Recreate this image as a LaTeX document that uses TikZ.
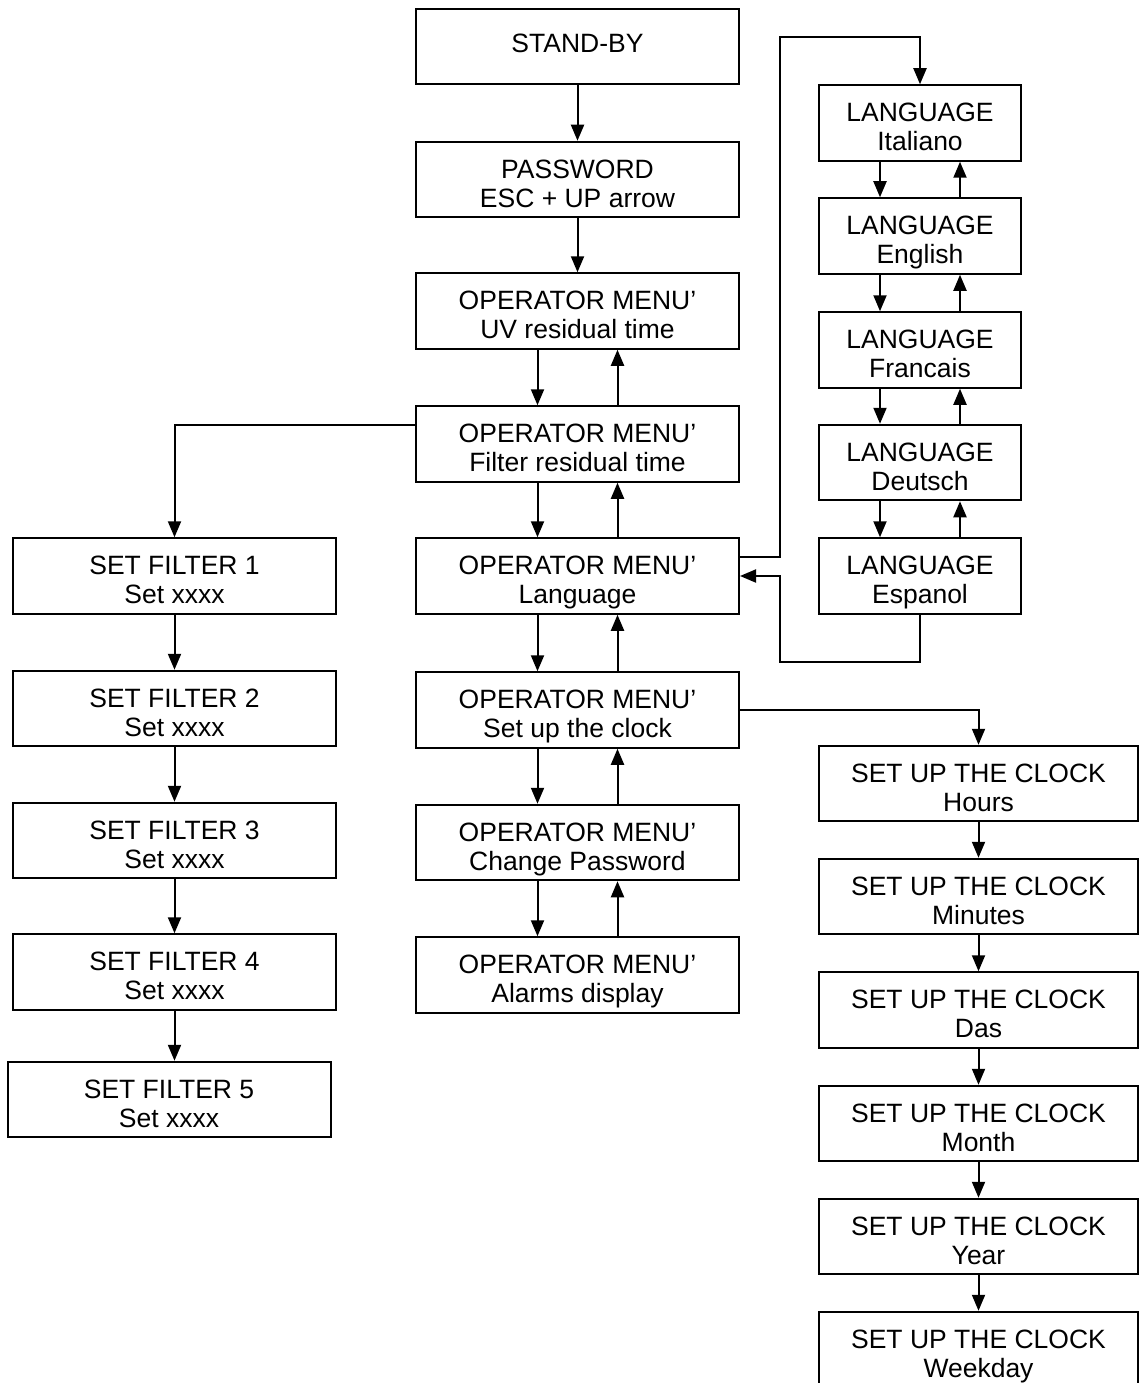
\documentclass[tikz,border=0pt]{standalone}
\usepackage{fontspec}
\setmainfont{Liberation Sans}
\usetikzlibrary{arrows.meta,calc}
\begin{document}
\begin{tikzpicture}[x=1pt,y=-1pt,
  box/.style={draw,line width=2pt,inner sep=0pt,minimum width=323pt,minimum height=75.5pt,align=center,font=\fontsize{26.5}{29}\selectfont,text height=55.4pt,text depth=0pt},
  single/.style={text height=12.5pt},
  langbox/.style={box,minimum width=202pt},
  clockbox/.style={box,minimum width=319pt},
  link/.style={line width=2pt},
  arr/.style={link,-{Triangle[length=16pt,width=13pt]}}]
\useasboundingbox (0,0) rectangle (1139,1383);
% main column
\node[box,single] (sb) at (577.5,46.5) {STAND-BY};
\node[box] (pw) at (577.5,179.5) {PASSWORD\\ESC + UP arrow};
\node[box] (uv) at (577.5,311) {OPERATOR MENU’\\UV residual time};
\node[box] (fr) at (577.5,444) {OPERATOR MENU’\\Filter residual time};
\node[box] (lg) at (577.5,576) {OPERATOR MENU’\\Language};
\node[box] (ck) at (577.5,710) {OPERATOR MENU’\\Set up the clock};
\node[box] (cp) at (577.5,842.5) {OPERATOR MENU’\\Change Password};
\node[box] (al) at (577.5,975) {OPERATOR MENU’\\Alarms display};
% filter column
\node[box] (f1) at (174.5,576) {SET FILTER 1\\Set xxxx};
\node[box] (f2) at (174.5,708.5) {SET FILTER 2\\Set xxxx};
\node[box] (f3) at (174.5,840.5) {SET FILTER 3\\Set xxxx};
\node[box] (f4) at (174.5,972) {SET FILTER 4\\Set xxxx};
\node[box] (f5) at (169,1099.5) {SET FILTER 5\\Set xxxx};
% language column
\node[langbox] (it) at (920,123) {LANGUAGE\\Italiano};
\node[langbox] (en) at (920,236) {LANGUAGE\\English};
\node[langbox] (fra) at (920,350) {LANGUAGE\\Francais};
\node[langbox] (de) at (920,462.5) {LANGUAGE\\Deutsch};
\node[langbox] (es) at (920,576) {LANGUAGE\\Espanol};
% clock column
\node[clockbox] (ho) at (978.5,783.5) {SET UP THE CLOCK\\Hours};
\node[clockbox] (mi) at (978.5,896.5) {SET UP THE CLOCK\\Minutes};
\node[clockbox] (da) at (978.5,1010) {SET UP THE CLOCK\\Das};
\node[clockbox] (mo) at (978.5,1123.5) {SET UP THE CLOCK\\Month};
\node[clockbox] (ye) at (978.5,1236.5) {SET UP THE CLOCK\\Year};
\node[clockbox] (wd) at (978.5,1349.5) {SET UP THE CLOCK\\Weekday};
% main column connectors
\draw[arr] (sb.south) -- (pw.north);
\draw[arr] (pw.south) -- (uv.north);
\foreach \a/\b in {uv/fr,fr/lg,lg/ck,ck/cp,cp/al}{
  \draw[arr] ($(\a.south)+(-40,0)$) -- ($(\b.north)+(-40,0)$);
  \draw[arr] ($(\b.north)+(40,0)$) -- ($(\a.south)+(40,0)$);
}
% language connectors
\foreach \a/\b in {it/en,en/fra,fra/de,de/es}{
  \draw[arr] ($(\a.south)+(-40,0)$) -- ($(\b.north)+(-40,0)$);
  \draw[arr] ($(\b.north)+(40,0)$) -- ($(\a.south)+(40,0)$);
}
\coordinate (lgx) at ($(lg.east)+(40,-19)$);
\draw[arr] ($(lg.east)+(0,-19)$) -- (lgx) -- (lgx |- 0,37) -- (it.north |- 0,37) -- (it.north);
\coordinate (esb) at ($(es.south)+(0,47)$);
\draw[arr] (es.south) -- (esb) -- (lgx |- esb) -- (lgx |- lg.east) -- (lg.east);
% filter connectors
\draw[arr] ($(fr.west)+(0,-19.5)$) -- (f1.north |- 0,424.5) -- (f1.north);
\draw[arr] (f1.south) -- (f2.north);
\draw[arr] (f2.south) -- (f3.north);
\draw[arr] (f3.south) -- (f4.north);
\draw[arr] (f4.south) -- (f4.south |- f5.north);
% clock connectors
\draw[arr] (ck.east) -- (ho.north |- ck.east) -- (ho.north);
\draw[arr] (ho.south) -- (mi.north);
\draw[arr] (mi.south) -- (da.north);
\draw[arr] (da.south) -- (mo.north);
\draw[arr] (mo.south) -- (ye.north);
\draw[arr] (ye.south) -- (wd.north);
\end{tikzpicture}
\end{document}
